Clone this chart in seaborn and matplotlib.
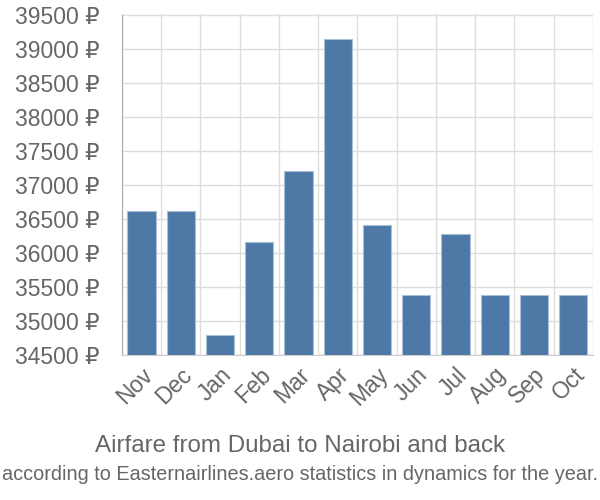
import pandas as pd
import matplotlib.pyplot as plt
import matplotlib.transforms as mtransforms
import seaborn as sns
from matplotlib import font_manager

months = ['Nov', 'Dec', 'Jan', 'Feb', 'Mar', 'Apr', 'May', 'Jun', 'Jul', 'Aug', 'Sep', 'Oct']
prices = [36610, 36610, 34800, 36155, 37205, 39145, 36405, 35375, 36280, 35375, 35375, 35375]
yticks = list(range(34500, 40000, 500))

df = pd.DataFrame({'month': months, 'price': prices})

sns.set_style('white')
plt.rcParams['font.family'] = ['Liberation Sans', 'DejaVu Sans']
grey = '#666666'

installed = {f.name for f in font_manager.fontManager.ttflist}
narrow = 'Liberation Sans Narrow' in installed

fig = plt.figure(figsize=(6, 5), dpi=100)
ax = fig.add_axes([0.203, 0.29, 0.785, 0.681])

sns.barplot(data=df, x='month', y='price', color='#4e79a7', saturation=1,
            width=0.72, edgecolor='#a9bfd6', linewidth=0.8, ax=ax, zorder=3)

ax.set_ylim(34500, 39500)
ax.set_xlim(-0.5, len(months) - 0.5)
ax.set_yticks(yticks)
ax.set_yticklabels([f'{v} ₽' for v in yticks], fontsize=16.5, color=grey)
ax.set_xticks(range(len(months)))
ax.set_xticklabels(months, rotation=45, ha='right', rotation_mode='anchor',
                   fontsize=16.5, color=grey)
ax.set_xticks([i - 0.5 for i in range(len(months) + 1)], minor=True)

# nudge the rotated month labels a little to the left
shift = mtransforms.ScaledTranslation(-4 / 100, 0, fig.dpi_scale_trans)
for lbl in ax.get_xticklabels():
    lbl.set_transform(lbl.get_transform() + shift)

ax.tick_params(axis='x', which='major', length=0, pad=6)
ax.tick_params(axis='x', which='minor', length=13, color='#dddddd', width=1)
ax.tick_params(axis='y', length=15, color='#dddddd', width=1, pad=1)
ax.grid(True, axis='y', color='#dddddd', linewidth=1, zorder=0)
ax.grid(True, axis='x', which='minor', color='#dddddd', linewidth=1, zorder=0)
ax.set_axisbelow(True)

for s in ['top', 'right']:
    ax.spines[s].set_visible(False)
ax.spines['left'].set_color('#aaaaaa')
ax.spines['bottom'].set_color('#cccccc')
ax.set_xlabel('')
ax.set_ylabel('')

fig.text(0.5, 0.107, 'Airfare from Dubai to Nairobi and back', ha='center', va='center',
         fontsize=17.4, color=grey)
if narrow:
    fig.text(0.5, 0.05, 'according to Easternairlines.aero statistics in dynamics for the year.',
             ha='center', va='center', fontsize=16.4, color=grey,
             family=['Liberation Sans Narrow', 'DejaVu Sans'])
else:
    fig.text(0.5, 0.05, 'according to Easternairlines.aero statistics in dynamics for the year.',
             ha='center', va='center', fontsize=14.3, color=grey)

fig.savefig('out.png', dpi=100)
